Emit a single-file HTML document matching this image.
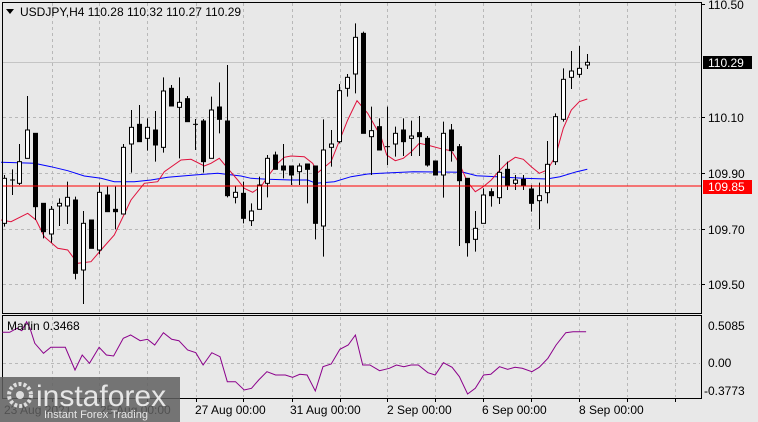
<!DOCTYPE html>
<html><head><meta charset="utf-8"><style>
body{margin:0;width:758px;height:422px;overflow:hidden;background:#e8e8e8;font-family:"Liberation Sans",sans-serif}
svg{display:block}
text{font-family:"Liberation Sans",sans-serif;font-size:12px;fill:#000}
</style></head><body>
<svg id="s" width="758" height="422" viewBox="0 0 758 422"></svg>
<script>
let out="";
function L(x1,y1,x2,y2,c,w,d){out+=`<line x1="${x1}" y1="${y1}" x2="${x2}" y2="${y2}" stroke="${c}" stroke-width="${w||1}" ${d?'stroke-dasharray="'+d+'"':''}/>`;}
[62,117,173,229,284].forEach(y=>L(3,y+.5,700,y+.5,"#b8b8b8",1,"3,3"));
const vx=[52,99,147,196,243,292,340,387,435,483,531,579,627,675];
vx.forEach(x=>{L(x+.5,3,x+.5,312,"#b8b8b8",1,"3,3");L(x+.5,317,x+.5,397,"#b8b8b8",1,"3,3");});
L(3,363.5,700,363.5,"#b8b8b8",1,"3,3");
L(3,62.5,700,62.5,"#c4c4c4",1);
const r1=[[0,660],[30,665],[80,640],[105,660],[130,710],[170,745],[200,750],[230,790],[270,785],[300,750],[340,705],[390,600],[430,550],[470,545],[490,515],[540,480],[570,478],[610,498],[630,490],[655,475],[680,505],[710,540],[730,565],[755,577],[780,560],[800,530],[830,490],[850,472],[870,468],[910,470],[935,490],[950,518],[990,485],[1010,435],[1040,360],[1068,302],[1100,340],[1140,410]];
const r2=[[20,465],[46,482],[70,475],[94,455],[118,430],[142,435],[190,448],[214,452],[238,490],[262,545],[286,575],[310,560],[334,540],[358,512],[382,488],[406,472],[430,478],[454,500],[478,520],[502,510],[526,470],[540,420],[550,385],[574,330],[598,305],[622,297]];
const b1=[[0,487],[100,490],[150,500],[200,512],[250,528],[300,535],[340,545],[400,545],[450,540],[500,532],[580,525],[650,520],[720,528],[750,535],[800,538],[870,540],[920,540],[945,550],[1000,545],[1050,530],[1100,522],[1140,520]];
const b2=[[100,515],[250,517],[290,527],[350,530],[430,535],[500,537],[540,530],[590,515],[622,508]];
function pts(a,b){return a.map(p=>(p[0]/3+1).toFixed(1)+","+(p[1]/3).toFixed(1)).concat(b.map(p=>(380+p[0]/3).toFixed(1)+","+(p[1]/3).toFixed(1))).join(" ");}
out+=`<polyline points="${pts(b1,b2)}" fill="none" stroke="#0000ff" stroke-width="1"/>`;
out+=`<polyline points="${pts(r1,r2)}" fill="none" stroke="#e0103c" stroke-width="1"/>`;
const c1=[[12,"W",535,670,525,680],[36,"D",540,540,508,585],[58,"W",485,550,432,555],[82,"W",390,475,288,475],[106,"B",400,620,400,660],[130,"B",610,695,610,715],[154,"W",628,702,618,728],[178,"W",610,618,595,678],[202,"W",592,618,545,672],[226,"B",600,820,590,838],[250,"W",670,810,633,912],[274,"B",660,745,660,745],[298,"W",577,750,548,763],[322,"B",585,635,560,635],[346,"B",628,635,560,688],[370,"W",442,642,432,642],[394,"W",382,432,330,518],[418,"B",373,425,315,425],[442,"W",382,415,355,452],[466,"B",390,435,333,485],[490,"W",273,442,232,458],[514,"B",265,318,255,318],[538,"W",307,322,232,475],[562,"B",296,365,288,365],[586,"D",373,373,357,450],[610,"B",363,485,357,518],[634,"W",330,475,290,475],[658,"B",321,358,247,400],[682,"B",363,587,195,592],[706,"W",577,592,557,610],[730,"B",580,655,545,670],[754,"W",633,662,610,678],[778,"W",555,628,530,628],[802,"W",475,550,465,592],[826,"B",465,508,455,508],[850,"B",498,510,432,535],[874,"B",498,525,498,555],[898,"W",498,515,490,555],[922,"B",492,508,492,610],[946,"B",498,670,498,718],[970,"W",450,678,358,770],[994,"W",432,442,390,500],[1018,"W",272,425,252,430],[1042,"W",232,265,222,290],[1066,"W",112,222,70,280],[1090,"B",100,400,95,400],[1114,"W",392,410,320,525],[1138,"B",380,450,355,450]];
const c2=[[22,"D",440,440,320,495],[46,"W",400,432,380,470],[70,"B",390,425,355,468],[94,"W",408,415,362,468],[118,"B",398,410,348,468],[142,"B",415,495,408,500],[166,"B",483,525,483,525],[190,"W",400,525,365,593],[214,"B",390,452,372,485],[238,"B",440,542,432,738],[262,"B",535,728,535,770],[286,"W",685,718,633,755],[310,"W",585,670,565,670],[334,"B",575,587,565,620],[358,"W",517,593,465,612],[382,"B",508,557,485,570],[406,"W",540,550,525,570],[430,"B",538,557,525,570],[454,"B",567,610,555,635],[478,"W",587,602,548,687],[502,"W",493,578,423,610],[526,"W",350,485,340,495],[550,"W",238,358,205,365],[574,"W",213,232,153,267],[598,"W",205,223,138,233],[622,"W",187,195,162,207]];
function cand(x,t,bt,bb,wt,wb){x=Math.round(x)+.5;bt/=3;bb/=3;wt/=3;wb/=3;
L(x,wt,x,wb,"#000",1);
if(t=="D"){L(x-2.5,bt,x+2.5,bt,"#000",1);return;}
if(bb-bt<2)bb=bt+2;
out+=`<rect x="${x-2}" y="${bt}" width="4" height="${bb-bt}" fill="${t=="W"?"#fff":"#000"}" stroke="#000" stroke-width="1"/>`;}
c1.forEach(c=>cand(c[0]/3,c[1],c[2],c[3],c[4],c[5]));
c2.forEach(c=>cand(380+c[0]/3,c[1],c[2],c[3],c[4],c[5]));
L(3,186,702,186,"#ff0000",1);
out+=`<rect x="2.5" y="2.5" width="699" height="311" fill="none" stroke="#000"/>`;
out+=`<rect x="2.5" y="315.5" width="699" height="83" fill="none" stroke="#000"/>`;
[[4,"110.50"],[117,"110.10"],[173,"109.90"],[229,"109.70"],[284,"109.50"]].forEach(a=>{L(701,a[0]+.5,705,a[0]+.5,"#000");out+=`<text x="708" y="${a[0]+5}">${a[1]}</text>`;});
out+=`<rect x="703" y="56" width="49" height="13" fill="#000"/><text x="708" y="67" style="fill:#fff">110.29</text>`;
out+=`<rect x="703" y="180" width="49" height="14" fill="#ff0000"/><text x="708" y="191" style="fill:#fff">109.85</text>`;
out+=`<text x="708" y="330">0.5085</text><text x="708" y="367">0.00</text><text x="704" y="395">-0.3773</text>`;
const m=[[5,67],[20,67],[35,55],[45,62],[55,35],[62,55],[72,100],[90,130],[105,112],[135,112],[155,180],[170,135],[185,160],[205,112],[220,135],[235,138],[255,85],[270,75],[290,92],[305,88],[320,105],[338,68],[355,88],[370,92],[388,120],[405,128],[420,165],[438,128],[455,140],[470,215],[487,215],[505,240],[520,235],[535,210],[552,185],[570,195],[590,195],[605,202],[620,193],[635,195],[652,243],[668,170],[685,162],[703,118],[720,105],[735,75],[750,165],[765,165],[785,182],[805,175],[820,165],[835,170],[850,165],[865,165],[885,188],[900,195],[917,158],[935,172],[950,200],[967,252],[983,235],[1000,195],[1015,193],[1033,170],[1050,178],[1065,172],[1080,175],[1100,185],[1115,172],[1133,145],[1150,105],[1170,68],[1185,65],[1212,65]];
out+=`<polyline points="${m.map(p=>(p[0]/2.068).toFixed(1)+","+(310+p[1]/3).toFixed(1)).join(" ")}" fill="none" stroke="#8b008b" stroke-width="1"/>`;
out+=`<path d="M6 9 L14 9 L10 14 Z" fill="#000"/><text x="20" y="16">USDJPY,H4  110.28 110.32 110.27 110.29</text>`;
out+=`<text x="7" y="330">Marlin 0.3468</text>`;
[[195,"27 Aug 00:00"],[290,"31 Aug 00:00"],[387,"2 Sep 00:00"],[482,"6 Sep 00:00"],[579,"8 Sep 00:00"]].forEach(a=>out+=`<text x="${a[0]}" y="414">${a[1]}</text>`);
vx.forEach(x=>L(x+.5,399,x+.5,402,"#000"));
out+=`<text x="4" y="414">23 Aug 2021</text><text x="100" y="414">25 Aug 00:00</text>`;
out+=`<rect x="0" y="377" width="180" height="45" fill="#5f5f5f" opacity="0.85"/>`;
out+=`<circle cx="20" cy="395" r="11" fill="none" stroke="#ddd" stroke-width="4" stroke-dasharray="3,2"/><circle cx="20" cy="395" r="4" fill="#ddd"/>`;
out+=`<text x="36" y="406" style="font-size:30px;fill:#e6e6e6">instaforex</text>`;
out+=`<text x="44" y="418" style="font-size:11px;fill:#e6e6e6">Instant Forex Trading</text>`;
document.getElementById("s").innerHTML=out;
</script>
</body></html>
